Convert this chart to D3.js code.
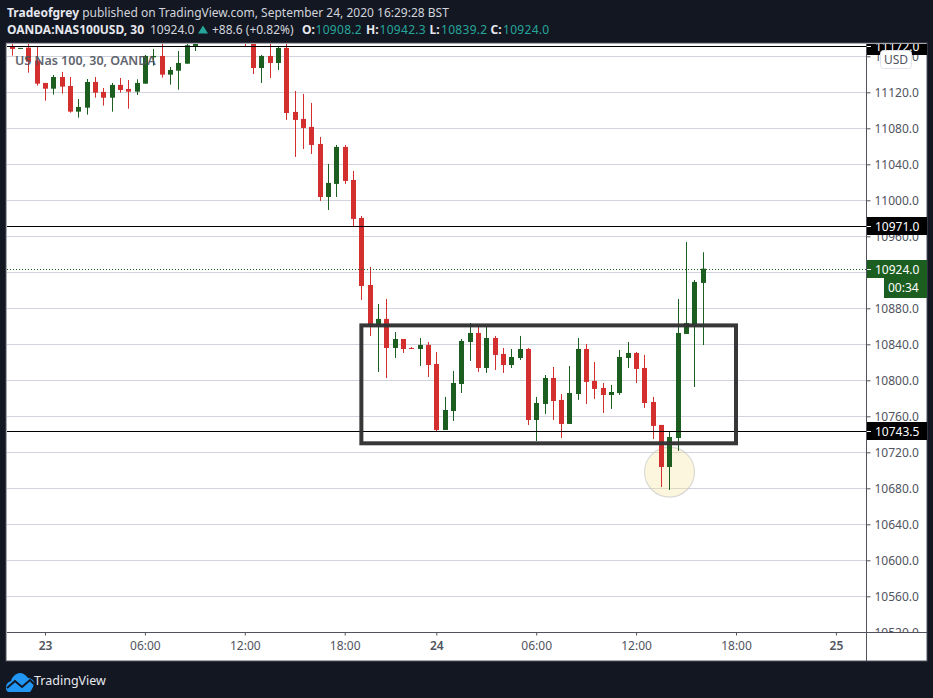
<!DOCTYPE html>
<html><head><meta charset="utf-8">
<script src="https://cdn.jsdelivr.net/npm/d3@7"></script>
<style>html,body{margin:0;padding:0;background:#131722;overflow:hidden}svg{display:block}text{font-family:"Noto Sans",sans-serif}</style>
</head><body><svg id="c" width="933" height="698"></svg>
<script>
const barIndex=[-4,-3,-2,-1,0,1,2,3,4,5,6,7,8,9,10,11,12,13,14,15,16,17,18,24,25,26,27,28,29,30,31,32,33,34,35,36,37,38,39,40,41,42,43,44,45,46,47,48,49,50,51,52,53,54,55,56,57,58,59,60,61,62,63,64,65,66,67,68,69,70,71,72,73,74,75,76,77,78,79];
const opens=[11170.7,11168.5,11169.6,11155.2,11130.4,11124,11137,11127,11098.5,11102.9,11131.5,11120.4,11114,11128.2,11123.7,11120.7,11129.6,11158.9,11160.4,11139.6,11144,11151.8,11171.5,11189,11183.7,11147,11160.4,11152.6,11169.3,11098.2,11090.4,11081.5,11062.6,11003.7,11018.2,11059.3,11022.6,10980.4,10905.9,10860,10868.2,10835.9,10845.9,10835.9,10834.8,10839.3,10818.2,10744.8,10765.9,10795.9,10842.6,10852.6,10813.7,10847,10829.3,10817,10824.8,10834.8,10755.9,10773.7,10802.6,10778.2,10751.5,10784.8,10834.8,10799.3,10791.5,10783.7,10785.9,10824.8,10830.4,10813.7,10775.9,10750.4,10703.7,10735.9,10851.5,10862.6,10908.2];
const highs=[11176,11169.3,11178,11170.7,11130.4,11139.3,11142.6,11137,11112.6,11134.8,11137,11124.8,11130.4,11135.9,11133.7,11134.5,11161.5,11168.2,11178,11148.2,11165.9,11178,11194.8,11195,11191.5,11161.5,11183.7,11170.7,11180.4,11121.5,11118.2,11108.2,11070.4,11040.4,11061.5,11061.5,11032.6,10982.6,10925.9,10884.8,10890.4,10853.7,10845.9,10837,10847,10842.6,10831.5,10781.5,10810.4,10845.9,10863.7,10862.6,10860.4,10849.3,10835.9,10834.8,10849.3,10835.9,10781.5,10805.9,10814.8,10784.8,10815.9,10847,10840.4,10820.4,10797,10794.8,10833.7,10842.6,10831.5,10828.2,10781.5,10750.4,10742.6,10890.4,10953.7,10911.5,10942.3];
const lows=[11160.7,11168.5,11141.8,11127.4,11110.7,11117.4,11118.5,11097.4,11091.8,11095.2,11114,11105.2,11098.5,11119.6,11101.8,11117,11129.6,11149.6,11136.3,11128.5,11122.9,11151.8,11165.9,11170.7,11140.4,11130.4,11136,11144.8,11089.3,11048.2,11057,11051.5,10999.3,10989.3,11003.7,11018.2,10971.5,10889.3,10849.3,10809.3,10802.6,10824.8,10830.4,10834.8,10815.9,10803.7,10742.6,10744.8,10754.8,10785.9,10821.5,10809.3,10808.2,10811.5,10808.2,10813.7,10822.6,10750.4,10732.6,10762.6,10755.9,10735.9,10751.5,10778.2,10773.7,10779.3,10763.7,10768.2,10783.7,10813.7,10797,10769.3,10734.8,10681.5,10678.2,10721.5,10851.5,10792.6,10839.2];
const closes=[11168.2,11169.3,11154,11129.6,11124,11137,11126.3,11098.5,11103.7,11131.5,11119.6,11114,11128.2,11122.6,11120.7,11130.4,11160.4,11160.4,11139.6,11144.8,11152.6,11172.3,11189,11180,11147,11160.4,11152.6,11169.3,11097,11089.3,11080.4,11061.5,11003.7,11019.3,11059.3,11021.5,10979.3,10904.8,10860.4,10868.2,10835.9,10845.9,10834.8,10834.8,10839.3,10817,10744.8,10767,10797,10843.7,10852.6,10813.7,10847,10828.2,10817,10825.9,10834.8,10755.9,10774.8,10802.6,10777,10751.5,10785.9,10834.8,10798.2,10790.4,10783.7,10787,10825.9,10830.4,10812.6,10774.8,10749.3,10703.7,10737,10852.6,10863.7,10909.3,10924];
const priceTicks=[10520,10560,10600,10640,10680,10720,10760,10800,10840,10880,10920,10960,11000,11040,11080,11120,11160];
const timeTickBars=[0,12,24,36,47,59,71,83,95];
const timeTickLabels=["23","06:00","12:00","18:00","24","06:00","12:00","18:00","25"];
const boldTicks=["23","24","25"];
const levels=[11172,10971,10743.5];
const lastPrice=10924;
const boxPrices=[10861,10730];
const boxBars=[38,83];
const circleCenter={bar:75,price:10698};
const titleText=["Tradeofgrey"," published on TradingView.com, September 24, 2020 16:29:28 BST"];
const symbolText="OANDA:NAS100USD, 30";
const changeText="+88.6 (+0.82%)";
const ohlcLabels=[["O:","10908.2",302,315.5],["H:","10942.3",366,379.5],["L:","10839.2",429.5,441],["C:","10924.0",490.5,503]];

const svg=d3.select("#c");
const x=d3.scaleLinear().domain([0,95]).range([45,835.9]);
const y=d3.scaleLinear().domain([11000,10520]).range([200.3,632.3]);
const px=i=>Math.round(x(i));
const UP="#1b5e20",DN="#d32f2f",GRID="#d1d4dc",AX="#50535e",BG="#131722",TXT="#d1d4dc",TEAL="#26a69a";
const L=7,R=866,T=44,B=632,OR=927,OB=661;

svg.append("rect").attr("x",L-1).attr("y",T-1).attr("width",OR-L+1).attr("height",OB-T+1).attr("fill","#fff").attr("stroke",AX);
svg.append("clipPath").attr("id","pane").append("rect").attr("x",L).attr("y",T).attr("width",R-L).attr("height",B-T);
svg.append("clipPath").attr("id","axisClip").append("rect").attr("x",R).attr("y",T).attr("width",OR-R).attr("height",B-T);
const pane=svg.append("g").attr("clip-path","url(#pane)");

pane.append("g").selectAll("line").data(priceTicks).join("line")
 .attr("x1",L).attr("x2",R).attr("y1",d=>Math.round(y(d))+.5).attr("y2",d=>Math.round(y(d))+.5)
 .attr("stroke",GRID).attr("stroke-width",1);

// circle highlight (behind the candles)
pane.append("circle").attr("cx",px(circleCenter.bar)+.5).attr("cy",y(circleCenter.price)).attr("r",25)
 .attr("fill","rgba(250,225,150,.3)").attr("stroke","rgba(190,190,190,.55)").attr("stroke-width",1.2);

// candles
const n=d3.range(barIndex.length);
const g=pane.append("g");
g.selectAll(".w").data(n).join("rect").attr("x",i=>px(barIndex[i])).attr("width",1)
 .attr("y",i=>y(highs[i])).attr("height",i=>y(lows[i])-y(highs[i]))
 .attr("fill",i=>closes[i]>=opens[i]?UP:DN);
g.selectAll(".b").data(n).join("rect").attr("x",i=>px(barIndex[i])-2).attr("width",5)
 .attr("y",i=>y(Math.max(opens[i],closes[i]))).attr("height",i=>Math.max(1,Math.abs(y(opens[i])-y(closes[i]))))
 .attr("fill",i=>closes[i]>=opens[i]?UP:DN);

// last price dotted
pane.append("line").attr("x1",L).attr("x2",R).attr("y1",Math.round(y(lastPrice))+.5).attr("y2",Math.round(y(lastPrice))+.5)
 .attr("stroke",UP).attr("stroke-dasharray","1 2");
// levels
pane.append("g").selectAll("line").data(levels).join("line").attr("x1",L).attr("x2",R)
 .attr("y1",d=>Math.round(y(d))+.5).attr("y2",d=>Math.round(y(d))+.5).attr("stroke","#000").attr("stroke-width",1);
// box
pane.append("rect").attr("x",x(boxBars[0])).attr("y",y(boxPrices[0])).attr("width",x(boxBars[1])-x(boxBars[0])).attr("height",y(boxPrices[1])-y(boxPrices[0]))
 .attr("fill","none").attr("stroke","#333").attr("stroke-width",4).attr("opacity",.98);

// watermark
svg.append("text").attr("x",15).attr("y",65).attr("font-size",12.5).attr("font-weight",600).attr("fill","#50535e").attr("opacity",.9).text("US Nas 100, 30, OANDA");

// axes
const yAxis=d3.axisRight(y).tickValues(priceTicks).tickSize(4).tickPadding(4).tickFormat(d3.format(".1f"));
const ya=svg.append("g").attr("clip-path","url(#axisClip)").append("g").attr("transform",`translate(${R+.5},0)`).call(yAxis);
ya.select(".domain").remove();
ya.selectAll("line").attr("stroke",AX);
ya.selectAll("text").attr("fill",AX).attr("font-size",12);
svg.append("line").attr("x1",R+.5).attr("x2",R+.5).attr("y1",T).attr("y2",OB).attr("stroke",AX);

const xAxis=d3.axisBottom(x).tickValues(timeTickBars).tickSize(3).tickPadding(6).tickFormat((d,i)=>timeTickLabels[i]);
const xa=svg.append("g").attr("transform",`translate(0,${B+.5})`).call(xAxis);
xa.select(".domain").remove();
xa.selectAll("line").attr("stroke",AX);
xa.selectAll("text").attr("fill",d=>AX).attr("font-size",12).attr("font-weight",(d,i)=>boldTicks.includes(timeTickLabels[i])?600:400);
svg.append("line").attr("x1",L).attr("x2",OR).attr("y1",B+.5).attr("y2",B+.5).attr("stroke",AX);

// price labels
const tag=(v,bg)=>{const yy=Math.round(y(v));
 svg.append("rect").attr("x",R+1).attr("y",Math.max(T,yy-9)).attr("width",OR-R-1).attr("height",yy-9<T?yy+9-T:18).attr("fill",bg);
 svg.append("line").attr("x1",R+1).attr("x2",R+5).attr("y1",yy+.5).attr("y2",yy+.5).attr("stroke","#fff");
 const t=svg.append("text").attr("x",R+9).attr("y",yy+4.5).attr("font-size",12).attr("fill","#fff").text(d3.format(".1f")(v));
 return t;};
svg.append("clipPath").attr("id","topClip").append("rect").attr("x",R).attr("y",T).attr("width",OR-R).attr("height",100);
levels.forEach(v=>{const t=tag(v,"#000"); if(v===levels[0]) t.attr("clip-path","url(#topClip)");});
tag(lastPrice,UP);
svg.append("rect").attr("x",884).attr("y",277).attr("width",OR-884).attr("height",21).attr("fill",UP);
svg.append("text").attr("x",888).attr("y",292).attr("font-size",12).attr("fill","#fff").text("00:34");

// USD button
svg.append("rect").attr("x",880.5).attr("y",50.5).attr("width",31).attr("height",18).attr("rx",3).attr("fill","#fff").attr("stroke","#e0e3eb");
svg.append("text").attr("x",896).attr("y",64).attr("text-anchor","middle").attr("font-size",12).attr("fill",AX).text("USD");

// header
const t1=svg.append("text").attr("x",7).attr("y",17).attr("font-size",12).attr("fill",TXT);
t1.append("tspan").attr("font-weight",700).attr("fill","#e6e8ee").text(titleText[0]);
t1.append("tspan").text(titleText[1]);
const t2=svg.append("text").attr("x",7).attr("y",34).attr("font-size",12).attr("fill",TXT);
t2.append("tspan").attr("font-weight",700).attr("fill","#e6e8ee").text(symbolText);
t2.append("tspan").attr("x",150).text("10924.0");
svg.append("path").attr("d","M198 33.5l5-8 5 8z").attr("fill",TEAL);
svg.append("text").attr("x",212).attr("y",34).attr("font-size",12).attr("fill",TXT).text(changeText);
ohlcLabels.forEach(p=>{
 svg.append("text").attr("x",p[2]).attr("y",34).attr("font-size",12).attr("font-weight",700).attr("fill","#e6e8ee").text(p[0]);
 svg.append("text").attr("x",p[3]).attr("y",34).attr("font-size",12).attr("letter-spacing",.3).attr("fill",TEAL).text(p[1]);
});

// logo
const lg=svg.append("g").attr("transform","translate(6,672)");
lg.append("path").attr("fill","#2196f3").attr("d","M0 16 C0 12 2 10 5 9 C6 5 10 1 14 1 C17 1 20 3 22 6 C25 6 27 8 28 10 C29 11 26 18 24 20 L3 20 C1 20 0 18 0 16 Z");
lg.append("path").attr("fill","none").attr("stroke","#131722").attr("stroke-width",2).attr("d","M1 16 L9 9 L16 15 L24 8 L29 13");
svg.append("text").attr("x",34).attr("y",685).attr("font-size",12.5).attr("fill","#e6e8ee").text("TradingView");
</script></body></html>
